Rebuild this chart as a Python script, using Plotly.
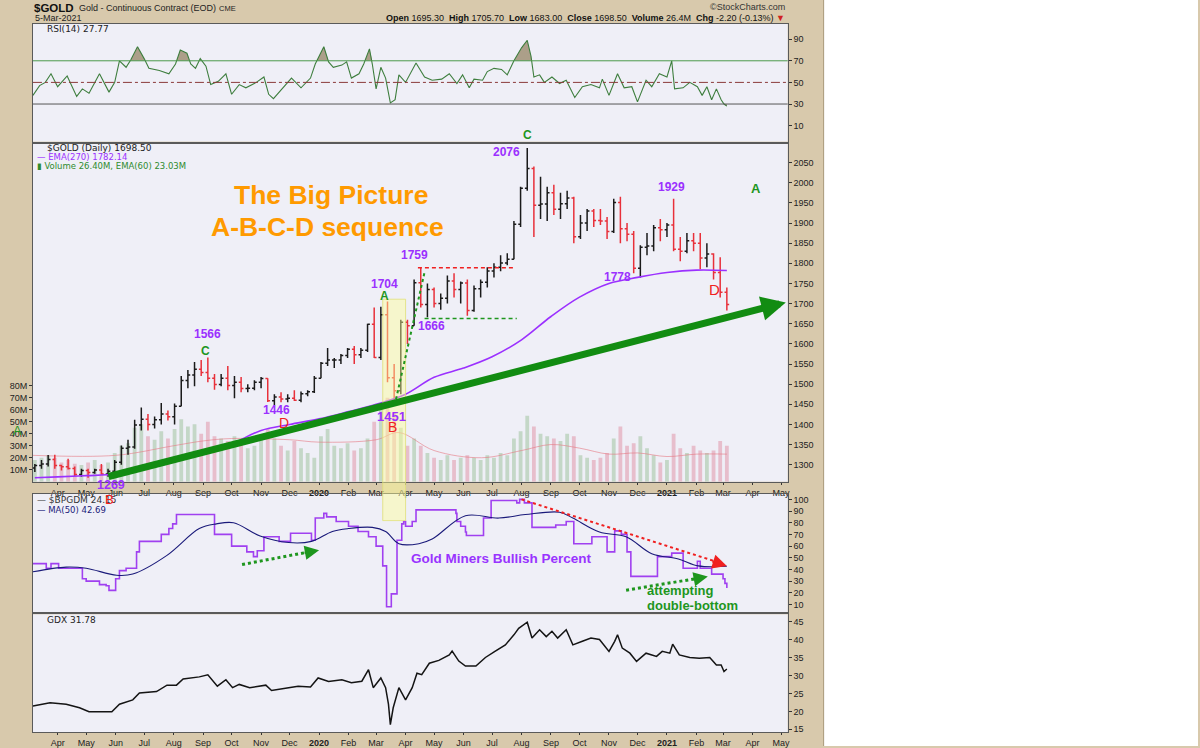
import numpy as np
import pandas as pd
import plotly.graph_objects as go

# ---------------- data ----------------
week_end = pd.date_range("2019-03-08", periods=105, freq="W-FRI")

gold_open = [1292, 1298, 1302, 1313, 1298, 1295, 1291, 1276, 1286, 1281,
             1287, 1277, 1284, 1306, 1341, 1344, 1399, 1413, 1400, 1412,
             1426, 1419, 1445, 1509, 1523, 1537, 1529, 1515, 1499, 1515,
             1497, 1505, 1489, 1490, 1505, 1514, 1459, 1468, 1463, 1465,
             1460, 1476, 1481, 1515, 1552, 1560, 1560, 1571, 1587, 1573,
             1584, 1649, 1566, 1672, 1516, 1484, 1654, 1645, 1752, 1698,
             1735, 1700, 1713, 1756, 1735, 1751, 1683, 1737, 1753, 1781,
             1790, 1801, 1810, 1897, 1986, 2035, 1944, 1947, 1975, 1934,
             1948, 1962, 1866, 1900, 1930, 1906, 1905, 1879, 1951, 1886,
             1872, 1788, 1840, 1843, 1888, 1883, 1895, 1835, 1830, 1856,
             1850, 1813, 1823, 1777, 1728]
gold_high = [1302, 1312, 1324, 1325, 1300, 1315, 1296, 1290, 1290, 1290,
             1302, 1290, 1312, 1348, 1362, 1412, 1442, 1426, 1420, 1453,
             1435, 1452, 1520, 1535, 1555, 1560, 1566, 1525, 1525, 1545,
             1520, 1518, 1500, 1510, 1518, 1515, 1475, 1480, 1475, 1485,
             1482, 1485, 1520, 1555, 1590, 1565, 1575, 1590, 1595, 1590,
             1650, 1690, 1692, 1705, 1550, 1660, 1660, 1760, 1790, 1750,
             1740, 1725, 1770, 1775, 1755, 1760, 1745, 1760, 1790, 1800,
             1820, 1825, 1905, 1990, 2086, 2040, 2015, 1990, 1995, 1975,
             1980, 1965, 1920, 1935, 1935, 1935, 1915, 1960, 1965, 1900,
             1880, 1845, 1875, 1895, 1910, 1900, 1960, 1865, 1875, 1875,
             1875, 1850, 1825, 1815, 1740]
gold_low = [1282, 1290, 1296, 1290, 1286, 1288, 1272, 1270, 1268, 1278,
            1275, 1270, 1280, 1300, 1325, 1340, 1385, 1385, 1390, 1400,
            1410, 1400, 1445, 1490, 1495, 1520, 1505, 1486, 1495, 1485,
            1465, 1480, 1480, 1485, 1490, 1456, 1448, 1455, 1455, 1458,
            1455, 1470, 1478, 1515, 1545, 1540, 1550, 1565, 1550, 1565,
            1580, 1565, 1560, 1505, 1451, 1475, 1600, 1645, 1690, 1666,
            1690, 1685, 1700, 1715, 1700, 1670, 1680, 1715, 1740, 1765,
            1780, 1795, 1810, 1890, 1980, 1865, 1910, 1905, 1920, 1910,
            1935, 1850, 1860, 1880, 1890, 1895, 1860, 1875, 1850, 1855,
            1775, 1765, 1820, 1830, 1855, 1865, 1830, 1805, 1825, 1830,
            1785, 1790, 1760, 1715, 1683]
gold_close = [1298, 1302, 1313, 1298, 1295, 1291, 1276, 1286, 1281, 1287,
              1277, 1284, 1306, 1341, 1344, 1399, 1413, 1400, 1412, 1426,
              1419, 1445, 1509, 1523, 1537, 1529, 1515, 1499, 1515, 1497,
              1505, 1489, 1490, 1505, 1514, 1459, 1468, 1463, 1465, 1460,
              1476, 1481, 1515, 1552, 1560, 1560, 1571, 1587, 1573, 1584,
              1649, 1566, 1672, 1516, 1484, 1654, 1645, 1752, 1698, 1735,
              1700, 1713, 1756, 1735, 1751, 1683, 1737, 1753, 1781, 1790,
              1801, 1810, 1897, 1986, 2035, 1944, 1947, 1975, 1934, 1948,
              1962, 1866, 1900, 1930, 1906, 1905, 1879, 1951, 1886, 1872,
              1788, 1840, 1843, 1888, 1883, 1895, 1835, 1830, 1856, 1850,
              1813, 1823, 1777, 1728, 1698]
volume_m = [18, 20, 22, 20, 16, 18, 15, 14, 16, 18, 14, 16, 24,
            30, 32, 45, 48, 38, 35, 42, 36,
            44, 52, 46, 48, 40, 50, 38, 36,
            34, 38, 32, 28, 30, 36,
            44, 36, 30, 26, 34, 28, 24, 20,
            38, 44, 30, 28, 32, 26, 28, 36, 50,
            62, 70, 58, 45,
            30, 36, 30, 24, 20, 18, 22, 18, 20,
            22, 20, 18, 22, 20, 24, 22, 36,
            42, 55, 46, 40, 38, 36, 34, 40, 38,
            22, 20, 18, 20, 24,
            36, 46, 30, 32, 38, 28, 22, 16,
            18, 40, 28, 24, 30, 26, 24, 26, 34, 30]

ema_dates = ["2019-03-08", "2019-04-01", "2019-05-01", "2019-06-01", "2019-07-01",
             "2019-08-01", "2019-09-01", "2019-10-01", "2019-11-01", "2019-12-01",
             "2020-01-01", "2020-02-01", "2020-03-01", "2020-04-01", "2020-05-01",
             "2020-06-01", "2020-07-01", "2020-08-01", "2020-09-01", "2020-10-01",
             "2020-11-01", "2020-12-01", "2021-01-01", "2021-02-01", "2021-03-05"]
ema270 = [1268, 1270, 1273, 1277, 1290, 1307, 1330, 1352, 1385, 1400,
          1414, 1432, 1450, 1475, 1517, 1540, 1568, 1610, 1668, 1716,
          1750, 1765, 1777, 1783, 1782]

vol_ema_dates = ["2019-03-06", "2019-06-01", "2019-08-01", "2019-09-01", "2019-10-01",
                 "2019-12-01", "2020-01-01", "2020-03-01", "2020-03-25", "2020-05-01",
                 "2020-06-20", "2020-08-01", "2020-09-01", "2020-10-01", "2020-11-01",
                 "2020-12-01", "2021-01-01", "2021-02-01", "2021-03-05"]
vol_ema60 = [22, 22, 30, 34, 36, 35, 33, 35, 41, 26, 20, 26, 31, 28, 23, 24, 21, 23, 23]

rsi_dates = ["2019-03-06", "2019-03-13", "2019-03-19", "2019-03-25", "2019-04-01", "2019-04-11",
             "2019-04-21", "2019-04-27", "2019-05-04", "2019-05-15", "2019-05-25", "2019-05-31",
             "2019-06-05", "2019-06-12", "2019-06-17", "2019-06-24", "2019-07-01", "2019-07-06",
             "2019-07-17", "2019-07-27", "2019-08-03", "2019-08-08", "2019-08-15", "2019-08-19",
             "2019-08-24", "2019-08-29", "2019-09-04", "2019-09-09", "2019-09-17", "2019-09-25",
             "2019-10-01", "2019-10-09", "2019-10-16", "2019-10-27", "2019-11-04", "2019-11-09",
             "2019-11-14", "2019-11-23", "2019-12-03", "2019-12-13", "2019-12-23", "2019-12-28",
             "2020-01-06", "2020-01-11", "2020-01-16", "2020-01-25", "2020-01-30", "2020-02-04",
             "2020-02-12", "2020-02-17", "2020-02-23", "2020-02-26", "2020-03-01", "2020-03-06",
             "2020-03-11", "2020-03-16", "2020-03-21", "2020-03-25", "2020-04-01", "2020-04-12",
             "2020-04-21", "2020-04-29", "2020-05-09", "2020-05-17", "2020-05-25", "2020-05-31",
             "2020-06-07", "2020-06-12", "2020-06-21", "2020-06-26", "2020-07-03", "2020-07-11",
             "2020-07-17", "2020-07-24", "2020-08-01", "2020-08-07", "2020-08-11", "2020-08-14",
             "2020-08-20", "2020-08-25", "2020-09-02", "2020-09-10", "2020-09-17", "2020-09-26",
             "2020-10-04", "2020-10-13", "2020-10-22", "2020-10-25", "2020-11-01", "2020-11-10",
             "2020-11-17", "2020-11-25", "2020-12-01", "2020-12-10", "2020-12-16", "2020-12-24",
             "2021-01-01", "2021-01-06", "2021-01-09", "2021-01-18", "2021-01-25", "2021-02-02",
             "2021-02-07", "2021-02-12", "2021-02-17", "2021-02-22", "2021-02-27", "2021-03-02",
             "2021-03-05"]
rsi_vals = [38, 47, 50, 58, 46, 56,
            37, 44, 40, 58, 41, 50,
            70, 64, 71, 83, 72, 63,
            61, 58, 67, 80, 77, 67,
            63, 72, 65, 48, 51, 58,
            39, 48, 45, 50, 55, 39,
            35, 44, 54, 45, 54, 67,
            83, 69, 64, 66, 69, 54,
            58, 67, 81, 67, 44, 64,
            54, 31, 34, 57, 50, 68,
            55, 52, 53, 58, 49, 57,
            45, 53, 52, 60, 63, 62,
            57, 70, 82, 89, 74, 55,
            57, 50, 55, 49, 52, 36,
            46, 48, 45, 53, 38, 58,
            45, 46, 32, 52, 46, 58,
            55, 70, 44, 45, 50, 46,
            38, 46, 34, 44, 34, 30,
            28]

bpgdm_dates = ["2019-03-06", "2019-03-20", "2019-03-25", "2019-04-02", "2019-04-27", "2019-05-01",
               "2019-05-15", "2019-05-22", "2019-05-25", "2019-06-01", "2019-06-05", "2019-06-12",
               "2019-06-23", "2019-06-26", "2019-07-19", "2019-07-27", "2019-07-31", "2019-08-04",
               "2019-09-13", "2019-10-01", "2019-10-17", "2019-10-24", "2019-10-28", "2019-11-04",
               "2019-11-20", "2019-12-02", "2019-12-24", "2019-12-28", "2020-01-06", "2020-01-09",
               "2020-01-19", "2020-02-01", "2020-02-11", "2020-02-22", "2020-03-01", "2020-03-08",
               "2020-03-12", "2020-03-17", "2020-03-23", "2020-03-28", "2020-03-30", "2020-04-01",
               "2020-04-08", "2020-04-12", "2020-05-24", "2020-05-25", "2020-05-29", "2020-06-03",
               "2020-06-04", "2020-06-22", "2020-06-30", "2020-07-27", "2020-07-30", "2020-08-04",
               "2020-08-12", "2020-09-06", "2020-09-17", "2020-09-25", "2020-10-14", "2020-10-30",
               "2020-11-07", "2020-11-14", "2020-11-20", "2020-11-24", "2020-12-22", "2021-01-06",
               "2021-01-18", "2021-02-02", "2021-02-05", "2021-02-17", "2021-03-01", "2021-03-03",
               "2021-03-05"]
bpgdm_vals = [45, 41, 45, 41, 32, 30,
              27, 26, 22, 32, 39, 41,
              55, 64, 70, 75, 79, 87,
              70, 60, 55, 51, 56, 68,
              64, 71, 65, 84, 88, 85,
              81, 77, 72.5, 68, 60, 43,
              8, 19, 65, 79, 81, 77,
              81, 91, 88, 81, 77, 72,
              69, 84, 99, 97, 100, 97,
              76, 78, 81, 62, 68, 55,
              73, 70, 55, 34, 51, 54,
              41, 47, 41, 36, 32, 28,
              24.15]

ma50_dates = ["2019-03-06", "2019-04-10", "2019-05-01", "2019-06-02", "2019-06-19", "2019-07-25",
              "2019-08-28", "2019-09-15", "2019-10-03", "2019-10-31", "2019-11-30", "2019-12-24",
              "2020-01-15", "2020-02-01", "2020-02-26", "2020-03-11", "2020-03-25", "2020-04-15",
              "2020-04-29", "2020-06-03", "2020-07-08", "2020-08-05", "2020-09-10", "2020-09-24",
              "2020-10-22", "2020-11-19", "2020-12-16", "2021-01-13", "2021-02-03", "2021-03-05"]
ma50_vals = [38, 42, 41, 35, 36, 52, 75, 79, 80, 68.6, 63, 64, 72.5, 75, 76, 72.5, 62, 62,
             66, 86, 84, 87, 89, 84, 72, 68, 53.5, 49, 43, 42.69]

gdx_dates = ["2019-03-06", "2019-03-24", "2019-04-10", "2019-04-24", "2019-05-04", "2019-05-28",
             "2019-06-05", "2019-06-19", "2019-06-26", "2019-07-14", "2019-07-25", "2019-08-04",
             "2019-08-11", "2019-08-28", "2019-09-06", "2019-09-16", "2019-09-25", "2019-10-02",
             "2019-10-09", "2019-10-20", "2019-11-06", "2019-11-12", "2019-11-30", "2019-12-10",
             "2019-12-23", "2019-12-31", "2020-01-11", "2020-01-25", "2020-02-04", "2020-02-15",
             "2020-02-22", "2020-02-27", "2020-03-06", "2020-03-11", "2020-03-14", "2020-03-16",
             "2020-03-19", "2020-03-25", "2020-04-01", "2020-04-08", "2020-04-13", "2020-04-18",
             "2020-04-26", "2020-05-06", "2020-05-17", "2020-05-20", "2020-05-27", "2020-06-03",
             "2020-06-14", "2020-06-24", "2020-07-04", "2020-07-15", "2020-07-24", "2020-07-29",
             "2020-08-07", "2020-08-12", "2020-08-20", "2020-08-27", "2020-09-02", "2020-09-08",
             "2020-09-17", "2020-09-24", "2020-10-04", "2020-10-13", "2020-10-22", "2020-11-01",
             "2020-11-07", "2020-11-10", "2020-11-15", "2020-11-23", "2020-11-30", "2020-12-10",
             "2020-12-21", "2020-12-27", "2021-01-04", "2021-01-07", "2021-01-14", "2021-01-25",
             "2021-02-04", "2021-02-15", "2021-02-22", "2021-02-27", "2021-03-02", "2021-03-05"]
gdx_vals = [21.5, 22.4, 22.0, 21.0, 19.9, 19.9,
            22.0, 23.2, 25.1, 25.5, 27.3, 27.3,
            29.0, 29.6, 30.2, 27.0, 28.8, 26.6,
            27.5, 26.6, 27.3, 25.8, 26.6, 27.0,
            26.8, 29.3, 28.3, 28.8, 28.0, 28.4,
            31.6, 26.6, 29.3, 26.6, 22.0, 16.3,
            21.0, 26.6, 23.2, 26.6, 30.6, 30.2,
            33.4, 34.2, 35.7, 36.8, 34.0, 32.6,
            32.6, 35.0, 36.7, 38.5, 41.3, 43.1,
            44.8, 40.4, 42.7, 40.8, 42.3, 40.4,
            42.7, 38.5, 39.5, 40.4, 40.0, 36.7,
            39.5, 41.3, 37.6, 36.2, 33.9, 36.2,
            35.3, 36.7, 36.2, 38.7, 35.7, 35.0,
            34.8, 35.0, 32.9, 32.9, 31.1, 31.78]

price_ticks = list(range(1300, 2051, 50))
volume_ticks = [10, 20, 30, 40, 50, 60, 70, 80]
rsi_ticks = [10, 30, 50, 70, 90]
bp_ticks = [10, 20, 30, 40, 50, 60, 70, 80, 90, 100]
gdx_ticks = [15, 20, 25, 30, 35, 40, 45]
month_ticks = pd.date_range("2019-04-01", "2021-05-01", freq="MS")
month_text = [f"<b>{d.year}</b>" if d.month == 1 else d.strftime("%b") for d in month_ticks]

# ---------------- layout helpers ----------------
W, H = 1200, 748
def px(x):
    return x / W
def py(y):
    return 1 - y / H

X_RANGE = ["2019-03-06", "2021-05-08"]
XDOM = [px(33), px(789)]
TAN = "#D8C9AC"
PANEL = "#EFEFF7"
BORDER = "#5A5A5A"
PURPLE = "#9B30FF"
GREEN = "#1E961E"
RED = "#F02020"
ORANGE = "#FF9A00"
TICKFONT = dict(family="Liberation Sans, Arial", size=9, color="#222")


def fill_band(dates, vals, level, above):
    t = pd.to_datetime(pd.Series(dates)).values.astype("datetime64[ns]").astype("int64").astype(float)
    v = np.asarray(vals, dtype=float)
    xs, ys = [t[0]], [level]
    for i in range(len(v)):
        if i > 0:
            a, b = v[i - 1] - level, v[i] - level
            if a * b < 0:
                f = a / (a - b)
                xs.append(t[i - 1] + f * (t[i] - t[i - 1]))
                ys.append(level)
        xs.append(t[i])
        ys.append(max(v[i], level) if above else min(v[i], level))
    xs.append(t[-1])
    ys.append(level)
    return pd.to_datetime(np.array(xs).astype("int64")), ys


fig = go.Figure()

# ---- RSI panel ----
fx, fy = fill_band(rsi_dates, rsi_vals, 70, True)
fig.add_trace(go.Scatter(x=fx, y=fy, fill="toself", fillcolor="rgba(150,132,100,0.75)",
                         line=dict(width=0), mode="lines", xaxis="x", yaxis="y", hoverinfo="skip"))
fx, fy = fill_band(rsi_dates, rsi_vals, 30, False)
fig.add_trace(go.Scatter(x=fx, y=fy, fill="toself", fillcolor="rgba(150,132,100,0.75)",
                         line=dict(width=0), mode="lines", xaxis="x", yaxis="y", hoverinfo="skip"))
fig.add_trace(go.Scatter(x=rsi_dates, y=rsi_vals, mode="lines",
                         line=dict(color="#3E7E3E", width=1.1), xaxis="x", yaxis="y"))

# ---- price panel: volume (base axis y2) ----
vol_colors = ["rgba(224,150,170,0.55)" if c < o else "rgba(160,195,160,0.55)"
              for o, c in zip(gold_open, gold_close)]
fig.add_trace(go.Bar(x=week_end, y=volume_m, marker=dict(color=vol_colors, line=dict(width=0)),
                     width=4.0 * 86400000, xaxis="x2", yaxis="y2"))
fig.add_trace(go.Scatter(x=vol_ema_dates, y=vol_ema60, mode="lines",
                         line=dict(color="rgba(230,120,130,0.6)", width=1, shape="spline"),
                         xaxis="x2", yaxis="y2"))
# ---- price panel: price (overlay axis y5) ----
fig.add_trace(go.Scatter(x=ema_dates, y=ema270, mode="lines",
                         line=dict(color="#9B30FF", width=1.6, shape="spline"),
                         xaxis="x2", yaxis="y5"))
fig.add_trace(go.Ohlc(x=week_end, open=gold_open, high=gold_high, low=gold_low, close=gold_close,
                      increasing=dict(line=dict(color="#1A1A1A", width=1.5)),
                      decreasing=dict(line=dict(color="#E8303A", width=1.5)),
                      tickwidth=0.35, xaxis="x2", yaxis="y5"))

# ---- BPGDM panel ----
fig.add_trace(go.Scatter(x=bpgdm_dates, y=bpgdm_vals, mode="lines",
                         line=dict(color="#A040F0", width=1.6, shape="hv"), xaxis="x3", yaxis="y3"))
fig.add_trace(go.Scatter(x=ma50_dates, y=ma50_vals, mode="lines",
                         line=dict(color="#1A1A7A", width=1.1, shape="spline"), xaxis="x3", yaxis="y3"))

# ---- GDX panel ----
fig.add_trace(go.Scatter(x=gdx_dates, y=gdx_vals, mode="lines",
                         line=dict(color="#141414", width=1.5), xaxis="x4", yaxis="y4"))

common_x = dict(range=X_RANGE, domain=XDOM, type="date", showgrid=False, zeroline=False,
                showline=True, mirror=True, linecolor=BORDER, linewidth=1,
                tickvals=month_ticks, ticktext=month_text, tickfont=TICKFONT)
common_y = dict(showgrid=False, zeroline=False, showline=True, mirror=True, linecolor=BORDER,
                linewidth=1, ticks="outside", ticklen=3, tickcolor="#333", tickfont=TICKFONT)

fig.update_layout(
    width=W, height=H, margin=dict(l=0, r=0, t=0, b=0),
    paper_bgcolor=TAN, plot_bgcolor=PANEL, showlegend=False,
    xaxis=dict(common_x, anchor="y", showticklabels=False, ticks=""),
    yaxis=dict(common_y, domain=[py(142), py(24)], range=[-4.8, 104.1], side="right",
               anchor="x", tickvals=rsi_ticks),
    xaxis2=dict(common_x, anchor="y2", ticks="outside", ticklen=2, tickcolor="#333",
                rangeslider=dict(visible=False)),
    yaxis2=dict(common_y, domain=[py(483), py(144)], range=[0, 282], side="left", anchor="x2",
                tickvals=volume_ticks, ticktext=[f"{v}M" for v in volume_ticks]),
    yaxis5=dict(common_y, range=[1258, 2097], side="right", overlaying="y2", anchor="x2",
                tickvals=price_ticks, showline=False),
    xaxis3=dict(common_x, anchor="y3", showticklabels=False, ticks=""),
    yaxis3=dict(common_y, domain=[py(614), py(495)], range=[3.2, 104.9], side="right",
                anchor="x3", tickvals=bp_ticks),
    xaxis4=dict(common_x, anchor="y4", ticks="outside", ticklen=2, tickcolor="#333"),
    yaxis4=dict(common_y, domain=[py(734), py(616)], range=[14.25, 47.0], side="right",
                anchor="x4", tickvals=gdx_ticks),
)

shapes = []
# white area right of the chart, with the thin frame line
shapes.append(dict(type="rect", xref="paper", yref="paper", x0=px(825), x1=1, y0=0, y1=1,
                   fillcolor="white", line=dict(width=0), layer="below"))
shapes.append(dict(type="line", xref="paper", yref="paper", x0=px(825), x1=px(825), y0=0, y1=1,
                   line=dict(color="#A89878", width=1), layer="below"))
# RSI reference lines
shapes.append(dict(type="line", xref="x domain", yref="y", x0=0, x1=1, y0=70, y1=70,
                   line=dict(color="#4C9A4C", width=1)))
shapes.append(dict(type="line", xref="x domain", yref="y", x0=0, x1=1, y0=30, y1=30,
                   line=dict(color="#555", width=1)))
shapes.append(dict(type="line", xref="x domain", yref="y", x0=0, x1=1, y0=50, y1=50,
                   line=dict(color="#8A3A3A", width=1, dash="dashdot")))
# yellow highlight of the March 2020 crash
shapes.append(dict(type="rect", xref="x2", yref="paper", x0="2020-03-08", x1="2020-04-01",
                   y0=py(522), y1=py(300), fillcolor="rgba(255,255,150,0.45)",
                   line=dict(color="rgba(225,225,120,0.8)", width=1), layer="above"))
# price panel reference lines
shapes.append(dict(type="line", xref="x2", yref="y5", x0="2020-04-14", x1="2020-07-25",
                   y0=1789, y1=1789, line=dict(color=RED, width=1.5, dash="4px,3px")))
shapes.append(dict(type="line", xref="x2", yref="y5", x0="2020-04-21", x1="2020-07-27",
                   y0=1663, y1=1663, line=dict(color=GREEN, width=1.5, dash="4px,3px")))
shapes.append(dict(type="line", xref="x2", yref="y5", x0="2020-03-22", x1="2020-04-21",
                   y0=1463, y1=1778, line=dict(color=GREEN, width=2, dash="dot")))
# BPGDM dotted trend arrows (shafts)
shapes.append(dict(type="line", xref="x3", yref="y3", x0="2020-08-01", x1="2021-02-28",
                   y0=100, y1=45, line=dict(color=RED, width=2, dash="dot")))
shapes.append(dict(type="line", xref="x3", yref="y3", x0="2019-10-12", x1="2019-12-24",
                   y0=44.2, y1=55.4, line=dict(color=GREEN, width=3, dash="dot")))
shapes.append(dict(type="line", xref="x3", yref="y3", x0="2020-11-19", x1="2021-02-05",
                   y0=22.2, y1=32.7, line=dict(color=GREEN, width=3, dash="dot")))
fig.update_layout(shapes=shapes)

ann = []
def note(text, x, y, color, size=12, xref="x2", yref="y5", bold=True, xanchor="center",
         family="Liberation Sans, Arial"):
    ann.append(dict(text=f"<b>{text}</b>" if bold else text, x=x, y=y, xref=xref, yref=yref,
                    showarrow=False, xanchor=xanchor, yanchor="middle",
                    font=dict(color=color, size=size, family=family)))

# header
note("$GOLD", px(32), py(8), "#111", 11.5, "paper", "paper", xanchor="left")
note("Gold - Continuous Contract (EOD)", px(77), py(8), "#222", 9, "paper", "paper", False, "left")
note("CME", px(217), py(8.5), "#222", 7.5, "paper", "paper", False, "left")
note("5-Mar-2021", px(33), py(18), "#222", 9, "paper", "paper", False, "left")
note("©StockCharts.com", px(788), py(7), "#333", 9, "paper", "paper", False, "right")
ann.append(dict(text="<b>Open</b> 1695.30  <b>High</b> 1705.70  <b>Low</b> 1683.00  "
                     "<b>Close</b> 1698.50  <b>Volume</b> 26.4M  <b>Chg</b> -2.20 (-0.13%) "
                     "<span style='color:#D02020'>▼</span>",
                x=px(788), y=py(18), xref="paper", yref="paper", showarrow=False,
                xanchor="right", yanchor="middle",
                font=dict(size=9, color="#111", family="Liberation Sans, Arial")))

# panel legends
LEG = "DejaVu Sans, Verdana"
note("RSI(14) 27.77", px(45), py(29), "#222", 9, "paper", "paper", False, "left", LEG)
note("$GOLD (Daily) 1698.50", px(45), py(148), "#222", 9, "paper", "paper", False, "left", LEG)
note("— EMA(270) 1782.14", px(35), py(157), "#9B30FF", 8.5, "paper", "paper", False, "left", LEG)
note("▮ Volume 26.40M, EMA(60) 23.03M", px(35), py(166), "#2E8B2E", 8.5, "paper", "paper", False, "left", LEG)
note("— $BPGDM 24.15", px(35), py(501), "#333", 9, "paper", "paper", False, "left", LEG)
note("— MA(50) 42.69", px(35), py(511), "#1A1A7A", 8.5, "paper", "paper", False, "left", LEG)
note("GDX 31.78", px(45), py(622), "#222", 9, "paper", "paper", False, "left", LEG)

# big title
note("The Big Picture", px(332), py(196), ORANGE, 26.5, "paper", "paper")
note("A-B-C-D sequence", px(328), py(228), ORANGE, 26.5, "paper", "paper")

# wave labels on gold
note("1566", "2019-09-06", 1624, PURPLE)
note("C", "2019-09-04", 1582, GREEN)
note("1446", "2019-11-17", 1436, PURPLE)
note("D", "2019-11-25", 1404, RED, 14, bold=False)
note("1269", "2019-05-27", py(486), PURPLE, 12.5, yref="paper")
note("B", "2019-05-26", py(501), RED, 13, yref="paper", bold=False)
note("A", px(18), py(432), GREEN, 13, "paper", "paper", bold=False)
note("1704", "2020-03-10", 1748, PURPLE)
note("A", "2020-03-10", 1719, GREEN)
note("1759", "2020-04-10", 1820, PURPLE)
note("1666", "2020-04-28", 1644, PURPLE)
note("1451", "2020-03-17", 1421, PURPLE, 13)
note("B", "2020-03-18", 1394, RED, 14, bold=False)
note("2076", "2020-07-16", 2075, PURPLE)
note("C", "2020-08-07", py(135), GREEN, 12, yref="paper")
note("1929", "2021-01-06", 1990, PURPLE)
note("1778", "2020-11-10", 1765, PURPLE)
note("D", "2021-02-20", 1736, RED, 15, bold=False)
note("A", "2021-04-05", 1986, GREEN, 13)

# BPGDM texts
note("Gold Miners Bullish Percent", "2020-07-11", 49.3, "#9933FF", 13.5, "x3", "y3")
note("attempting", "2021-01-15", 22, GREEN, 13, "x3", "y3")
note("double-bottom", "2021-01-28", 9.1, GREEN, 13, "x3", "y3")

# big green trend arrow
ann.append(dict(x="2021-05-06", y=1703, ax="2019-05-23", ay=1270, xref="x2", yref="y5",
                axref="x2", ayref="y5", text="", showarrow=True, arrowhead=2,
                arrowsize=0.7, arrowwidth=7, arrowcolor="#128C12"))
# arrow heads of the dotted BPGDM trend lines
for tip_x, tip_y, ax, ay, col in [("2021-03-05", 43, -16, -5, RED),
                                  ("2020-01-01", 56.5, -16, 3, GREEN),
                                  ("2021-02-13", 33.9, -16, 3, GREEN)]:
    ann.append(dict(x=tip_x, y=tip_y, xref="x3", yref="y3", ax=ax, ay=ay, text="",
                    showarrow=True, arrowhead=2, arrowsize=1.3, arrowwidth=2.2, arrowcolor=col))

fig.update_layout(annotations=ann)
fig.write_html("out.html", config={"displayModeBar": False},
               post_script="document.body.style.margin='0';document.body.style.padding='0';"
                           "document.documentElement.style.overflow='hidden';")
